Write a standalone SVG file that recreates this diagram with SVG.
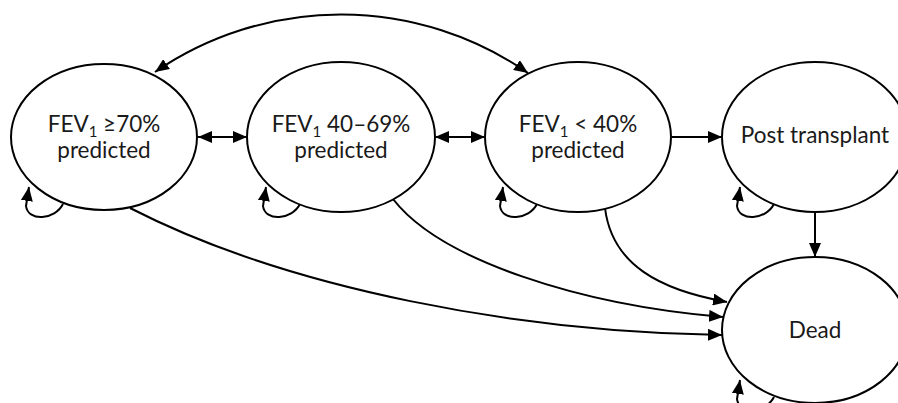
<svg xmlns="http://www.w3.org/2000/svg" width="898" height="403" viewBox="0 0 898 403">
<style>
.node ellipse{fill:#fff;stroke:#000;stroke-width:2}
.lbl{font-family:Lato,"Liberation Sans",sans-serif;font-size:22.5px;fill:#1a1a1a;text-anchor:middle}
.sub{font-size:15px}
#edges path{fill:none;stroke:#000;stroke-width:2}
</style>
<defs>
<marker id="ah" markerUnits="userSpaceOnUse" markerWidth="14" markerHeight="12" viewBox="0 0 14 12" refX="14" refY="6" orient="auto-start-reverse">
<path d="M0,0 L14,6 L0,12 z" fill="#000"/>
</marker>
</defs>
<rect width="898" height="403" fill="#fff"/>
<g id="edges">
<path d="M155,72 A329,329 0 0 1 528,73" marker-start="url(#ah)" marker-end="url(#ah)"/>
<path d="M198,137 L247,137" marker-start="url(#ah)" marker-end="url(#ah)"/>
<path d="M435,137 L485,137" marker-start="url(#ah)" marker-end="url(#ah)"/>
<path d="M672,137 L722,137" marker-end="url(#ah)"/>
<path d="M815,212 L815,257" marker-end="url(#ah)"/>
<path d="M130,208 C290,290 520,332 722,335" marker-end="url(#ah)"/>
<path d="M393,199 C440,260 580,305 723,317" marker-end="url(#ah)"/>
<path d="M605,208 C612,265 660,290 727,302" marker-end="url(#ah)"/>
<path d="M63,204 C55,220 28,222 26,206 L29,187" marker-end="url(#ah)"/>
<path d="M300,204 C292,220 265,222 263,206 L266,187" marker-end="url(#ah)"/>
<path d="M537,204 C529,220 502,222 500,206 L503,187" marker-end="url(#ah)"/>
<path d="M774,204 C766,220 739,222 737,206 L740,187" marker-end="url(#ah)"/>
<path d="M774,397 C766,413 739,415 737,399 L740,380" marker-end="url(#ah)"/>
</g>
<g id="n1" class="node"><ellipse cx="104" cy="137" rx="93" ry="73"/>
<text class="lbl" x="104" y="132">FEV<tspan class="sub" dy="5">1</tspan><tspan dy="-5"> ≥70%</tspan></text>
<text class="lbl" x="104" y="158">predicted</text></g>
<g id="n2" class="node"><ellipse cx="341" cy="137" rx="94" ry="75"/>
<text class="lbl" x="341" y="132">FEV<tspan class="sub" dy="5">1</tspan><tspan dy="-5"> 40–69%</tspan></text>
<text class="lbl" x="341" y="158">predicted</text></g>
<g id="n3" class="node"><ellipse cx="578" cy="137" rx="93" ry="75"/>
<text class="lbl" x="578" y="132">FEV<tspan class="sub" dy="5">1</tspan><tspan dy="-5"> &lt; 40%</tspan></text>
<text class="lbl" x="578" y="158">predicted</text></g>
<g id="n4" class="node"><ellipse cx="815" cy="137" rx="93" ry="75"/>
<text class="lbl" x="815" y="143">Post transplant</text></g>
<g id="n5" class="node"><ellipse cx="815" cy="330" rx="93" ry="73"/>
<text class="lbl" x="815" y="338">Dead</text></g>
</svg>
